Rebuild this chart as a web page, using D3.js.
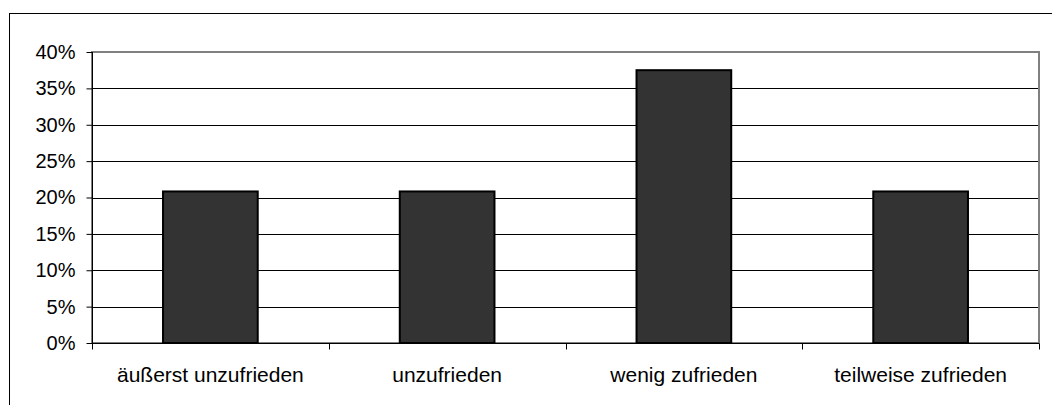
<!DOCTYPE html>
<html>
<head>
<meta charset="utf-8">
<script src="https://cdn.jsdelivr.net/npm/d3@7"></script>
<style>
  html, body { margin: 0; padding: 0; background: #fff; }
  svg { display: block; }
  text { font-family: "Liberation Sans", Arial, sans-serif; fill: #000; }
</style>
</head>
<body>
<svg id="chart" width="1052" height="405"></svg>
<script>
const categories = ["äußerst unzufrieden", "unzufrieden", "wenig zufrieden", "teilweise zufrieden"];
const values = [0.2083, 0.2083, 0.375, 0.2083];
const yTicks = [0, 0.05, 0.10, 0.15, 0.20, 0.25, 0.30, 0.35, 0.40];

const svg = d3.select("#chart");
const W = 1052, H = 405;
const plot = { left: 92, right: 1039, top: 52, bottom: 343 };

// outer frame (extends beyond the visible area to right and bottom)
svg.append("rect")
  .attr("x", 9.5).attr("y", 13.5)
  .attr("width", W + 20).attr("height", H + 20)
  .attr("fill", "none").attr("stroke", "#000").attr("stroke-width", 1);

const x = d3.scaleBand().domain(categories).range([plot.left, plot.right]).paddingInner(0).paddingOuter(0);
const y = d3.scaleLinear().domain([0, 0.40]).range([plot.bottom, plot.top]);

// gridlines
svg.append("g").selectAll("line").data(yTicks.filter(d => d > 0 && d < 0.40)).join("line")
  .attr("x1", plot.left).attr("x2", plot.right)
  .attr("y1", d => Math.round(y(d)) + 0.5).attr("y2", d => Math.round(y(d)) + 0.5)
  .attr("stroke", "#000").attr("stroke-width", 1);

// plot area border (grey)
svg.append("rect")
  .attr("x", plot.left).attr("y", plot.top)
  .attr("width", plot.right - plot.left).attr("height", plot.bottom - plot.top)
  .attr("fill", "none").attr("stroke", "#808080").attr("stroke-width", 2);

// bars
const barW = x.bandwidth() / 2.5;
svg.append("g").selectAll("rect").data(values).join("rect")
  .attr("x", (d, i) => x(categories[i]) + (x.bandwidth() - barW) / 2)
  .attr("y", d => y(d))
  .attr("width", barW)
  .attr("height", d => y(0) - y(d))
  .attr("fill", "#333333").attr("stroke", "#000").attr("stroke-width", 2);

// y axis
const yAxis = d3.axisLeft(y).tickValues(yTicks).tickFormat(d3.format(".0%")).tickSize(6).tickPadding(11);
const gy = svg.append("g").attr("transform", `translate(${plot.left + 0.5},0)`).call(yAxis);
gy.select(".domain").attr("stroke", "#000").attr("d", `M0,${plot.top}V${plot.bottom}`);
gy.selectAll(".tick line").attr("stroke", "#000");
gy.selectAll(".tick text").attr("font-size", "20px").attr("font-family", '"Liberation Sans", Arial, sans-serif').attr("fill", "#000");

// x axis
const xAxis = d3.axisBottom(x).tickSize(0).tickPadding(0);
const gx = svg.append("g").attr("transform", `translate(0,${plot.bottom + 0.5})`).call(xAxis);
gx.select(".domain").attr("stroke", "#000").attr("d", `M${plot.left},0H${plot.right}`);
gx.selectAll(".tick text").attr("font-size", "21px").attr("font-family", '"Liberation Sans", Arial, sans-serif')
  .attr("fill", "#000").attr("dy", 0).attr("y", 38);
// boundary tick marks between categories
const bounds = categories.map(c => x(c)).concat([plot.right]);
gx.append("g").selectAll("line").data(bounds).join("line")
  .attr("x1", d => Math.round(d) + 0.5).attr("x2", d => Math.round(d) + 0.5)
  .attr("y1", 0).attr("y2", 6).attr("stroke", "#000");
</script>
</body>
</html>
